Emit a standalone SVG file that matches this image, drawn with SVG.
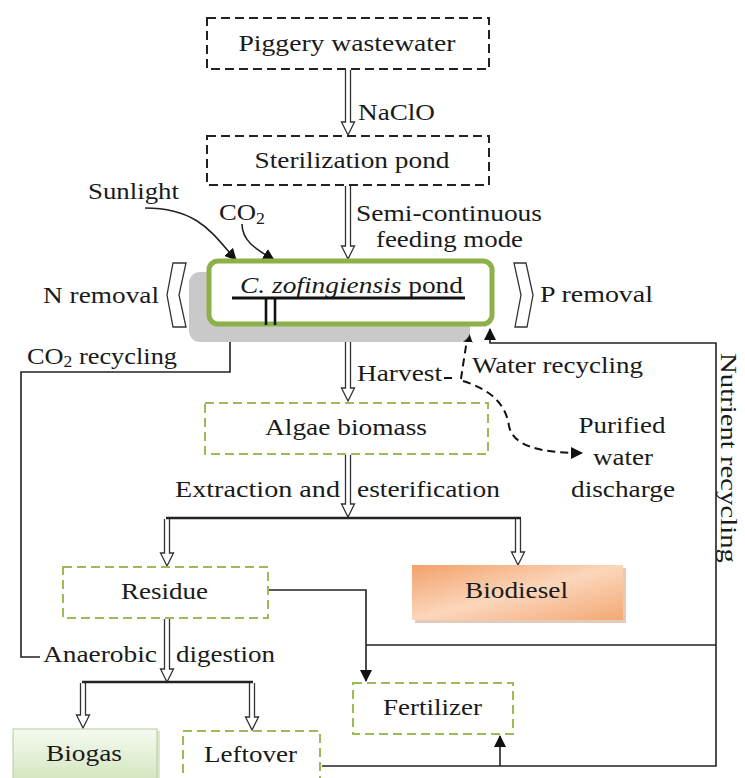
<svg xmlns="http://www.w3.org/2000/svg" width="745" height="778" viewBox="0 0 745 778">
  <style>
    text { font-family: "Liberation Serif", "Times New Roman", serif; font-size: 24px; fill: #1a1a1a; }
    .mid { text-anchor: middle; }
    .box-black { fill: #ffffff; stroke: #222222; stroke-width: 2; stroke-dasharray: 9 5; }
    .box-green { fill: #ffffff; stroke: #9bbb59; stroke-width: 2; stroke-dasharray: 9 5; }
    .hollow { fill: #ffffff; stroke: #333333; stroke-width: 1.3; stroke-linejoin: miter; }
    .wire { fill: none; stroke: #222222; stroke-width: 1.6; }
    .bus { fill: none; stroke: #222222; stroke-width: 2.6; }
    .dash { fill: none; stroke: #111111; stroke-width: 2; stroke-dasharray: 8 5; }
    .chev { fill: #ffffff; stroke: #333333; stroke-width: 1.3; }
  </style>
  <defs>
    <marker id="head" viewBox="0 0 12 12" refX="11" refY="6" markerWidth="12" markerHeight="12" markerUnits="userSpaceOnUse" orient="auto">
      <path d="M0,0 L12,6 L0,12 z" fill="#111111"/>
    </marker>
    <linearGradient id="orange" x1="0" y1="0" x2="1" y2="1">
      <stop offset="0" stop-color="#f2a16a"/>
      <stop offset="0.5" stop-color="#fbd6bb"/>
      <stop offset="1" stop-color="#f3a874"/>
    </linearGradient>
    <linearGradient id="green" x1="0" y1="0" x2="0" y2="1">
      <stop offset="0" stop-color="#f6faf1"/>
      <stop offset="1" stop-color="#d3e5bf"/>
    </linearGradient>
  </defs>

  <!-- connectors -->
  <g id="connectors">
    <!-- hollow process arrows -->
    <path class="hollow" d="M345.5,70 V122 H341.5 L348,135 L354.5,122 H350.5 V70"/>
    <path class="hollow" d="M345.5,186 V246 H341.5 L348,259 L354.5,246 H350.5 V186"/>
    <path class="hollow" d="M345.5,328 V388 H341.5 L348,401 L354.5,388 H350.5 V328"/>
    <path class="hollow" d="M345.5,455 V504 H341.5 L348,517 L354.5,504 H350.5 V455"/>
    <path class="hollow" d="M164.5,519 V553 H160.5 L167,566 L173.5,553 H169.5 V519"/>
    <path class="hollow" d="M515.5,519 V552 H511.5 L518,565 L524.5,552 H520.5 V519"/>
    <path class="hollow" d="M164.5,619 V669 H160.5 L167,682 L173.5,669 H169.5 V619"/>
    <path class="hollow" d="M80.5,683 V715 H76.5 L83,728 L89.5,715 H85.5 V683"/>
    <path class="hollow" d="M249.5,683 V717 H245.5 L252,730 L258.5,717 H254.5 V683"/>

    <!-- split bars -->
    <path class="bus" d="M166,518 H521"/>
    <path class="bus" d="M82,682 H253"/>

    <!-- inputs to the pond -->
    <path class="wire" d="M145,208 C200,208 214,236 236,260" marker-end="url(#head)"/>
    <path class="wire" d="M242,224 C242,242 258,250 274,260" marker-end="url(#head)"/>

    <!-- CO2 recycling loop -->
    <path class="wire" d="M40,657 H21 V372 H230 V328" marker-end="url(#head)"/>

    <!-- nutrient recycling loop -->
    <path class="wire" d="M322,766 H716 V343 H490 V329" marker-end="url(#head)"/>
    <path class="wire" d="M366,645 H716"/>
    <path class="wire" d="M268,590 H366 V681" marker-end="url(#head)"/>
    <path class="wire" d="M500,766 V736" marker-end="url(#head)"/>

    <!-- harvest water split -->
    <path class="dash" d="M444,378 H454"/>
    <path class="dash" d="M461,379 C463,364 466,348 468,331" marker-end="url(#head)"/>
    <path class="dash" d="M463,381 C492,390 506,405 509,426 C513,446 540,453 582,453" marker-end="url(#head)"/>
  </g>

  <!-- nodes -->
  <g id="piggery">
    <rect class="box-black" x="207" y="18" width="282" height="51"/>
    <text class="mid" x="347" y="51" textLength="217" lengthAdjust="spacingAndGlyphs">Piggery wastewater</text>
  </g>

  <g id="sterilization">
    <rect class="box-black" x="207" y="136" width="282" height="49"/>
    <text class="mid" x="352" y="168" textLength="195" lengthAdjust="spacingAndGlyphs">Sterilization pond</text>
  </g>

  <g id="pond">
    <rect x="189" y="272" width="281" height="70" rx="11" fill="#c9c9c9"/>
    <rect x="209" y="261" width="283" height="63" rx="9" fill="#ffffff" stroke="#8db04b" stroke-width="5"/>
    <text x="240" y="293" textLength="223" lengthAdjust="spacingAndGlyphs"><tspan font-style="italic">C. zofingiensis</tspan> pond</text>
    <path d="M232,298 H465" stroke="#111111" stroke-width="3"/>
    <path d="M266,298 V325 M275,298 V325" stroke="#111111" stroke-width="2.6"/>
  </g>

  <g id="n-removal">
    <polygon class="chev" points="173,263 186,263 179,295 186,327 173,327 167,295"/>
    <text x="43" y="303" textLength="116" lengthAdjust="spacingAndGlyphs">N removal</text>
  </g>

  <g id="p-removal">
    <polygon class="chev" points="514,263 526,263 533,295 527,327 515,327 521,295"/>
    <text x="540" y="302" textLength="113" lengthAdjust="spacingAndGlyphs">P removal</text>
  </g>

  <g id="algae">
    <rect class="box-green" x="205" y="403" width="283" height="51"/>
    <text x="265" y="435" textLength="162" lengthAdjust="spacingAndGlyphs">Algae biomass</text>
  </g>

  <g id="residue">
    <rect class="box-green" x="63" y="567" width="205" height="51"/>
    <text x="121" y="599" textLength="87" lengthAdjust="spacingAndGlyphs">Residue</text>
  </g>

  <g id="biodiesel">
    <rect x="415" y="568" width="211" height="55" fill="#d8b49a" opacity="0.7"/>
    <rect x="412" y="565" width="211" height="55" fill="url(#orange)"/>
    <text x="465" y="598" textLength="103" lengthAdjust="spacingAndGlyphs">Biodiesel</text>
  </g>

  <g id="fertilizer">
    <rect class="box-green" x="353" y="683" width="160" height="51"/>
    <text x="383" y="715" textLength="99" lengthAdjust="spacingAndGlyphs">Fertilizer</text>
  </g>

  <g id="biogas">
    <rect x="15" y="731" width="145" height="52" fill="#c6d6b3" opacity="0.6"/>
    <rect x="13" y="729" width="144" height="52" fill="url(#green)" stroke="#b4cb97" stroke-width="1"/>
    <text x="46" y="761" textLength="76" lengthAdjust="spacingAndGlyphs">Biogas</text>
  </g>

  <g id="leftover">
    <rect class="box-green" x="183" y="731" width="137" height="52"/>
    <text x="204" y="762" textLength="93" lengthAdjust="spacingAndGlyphs">Leftover</text>
  </g>

  <!-- edge labels -->
  <g id="labels">
    <text x="358" y="120" textLength="77" lengthAdjust="spacingAndGlyphs">NaClO</text>
    <text x="356" y="221" textLength="186" lengthAdjust="spacingAndGlyphs">Semi-continuous</text>
    <text x="376" y="247" textLength="147" lengthAdjust="spacingAndGlyphs">feeding mode</text>
    <text x="88" y="199" textLength="91" lengthAdjust="spacingAndGlyphs">Sunlight</text>
    <text x="219" y="220" textLength="46" lengthAdjust="spacingAndGlyphs">CO<tspan font-size="16" dy="4">2</tspan></text>
    <text x="27" y="364" textLength="150" lengthAdjust="spacingAndGlyphs">CO<tspan font-size="16" dy="3">2</tspan><tspan dy="-3"> recycling</tspan></text>
    <text x="357" y="381" textLength="85" lengthAdjust="spacingAndGlyphs">Harvest</text>
    <text x="472" y="373" textLength="171" lengthAdjust="spacingAndGlyphs">Water recycling</text>
    <text class="mid" x="622" y="433" textLength="87" lengthAdjust="spacingAndGlyphs">Purified</text>
    <text class="mid" x="623" y="465" textLength="60" lengthAdjust="spacingAndGlyphs">water</text>
    <text class="mid" x="623" y="497" textLength="104" lengthAdjust="spacingAndGlyphs">discharge</text>
    <text x="175" y="497" textLength="165" lengthAdjust="spacingAndGlyphs">Extraction and</text>
    <text x="357" y="497" textLength="143" lengthAdjust="spacingAndGlyphs">esterification</text>
    <text x="43" y="662" textLength="114" lengthAdjust="spacingAndGlyphs">Anaerobic</text>
    <text x="176" y="662" textLength="99" lengthAdjust="spacingAndGlyphs">digestion</text>
    <text transform="translate(721,353) rotate(90)" style="font-size:23px" textLength="210" lengthAdjust="spacingAndGlyphs">Nutrient recycling</text>
  </g>
</svg>
